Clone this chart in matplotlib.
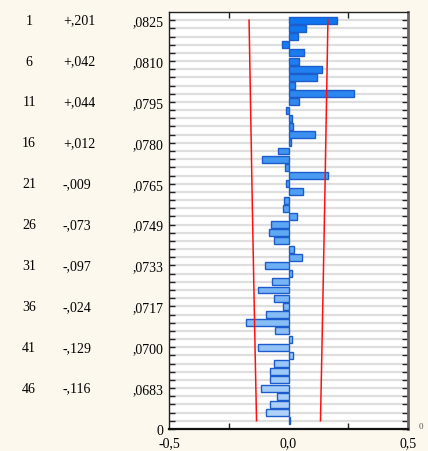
import matplotlib as mpl
mpl.use('Agg')
import matplotlib.pyplot as plt
import matplotlib.transforms as mtransforms
from matplotlib.colors import LinearSegmentedColormap
import numpy as np

mpl.rcParams['font.family'] = ['Liberation Serif', 'DejaVu Serif']
mpl.rcParams['font.size'] = 10

# autocorrelation by lag (1..50)
lags = list(range(1, 51))
acf = [0.201, 0.072, 0.038, -0.026, 0.065, 0.042, 0.139, 0.118, 0.027, 0.273,
       0.044, -0.009, 0.013, 0.017, 0.112, 0.012, -0.043, -0.110, -0.013, 0.164,
       -0.009, 0.062, -0.018, -0.024, 0.034, -0.073, -0.080, -0.059, 0.022, 0.058,
       -0.097, 0.016, -0.070, -0.126, -0.059, -0.024, -0.094, -0.177, -0.055, 0.016,
       -0.129, 0.020, -0.059, -0.079, -0.076, -0.116, -0.047, -0.079, -0.093, 0.006]
# standard errors by lag
se = [0.0825, 0.0822, 0.0819, 0.0816, 0.0813, 0.0810, 0.0807, 0.0804, 0.0801, 0.0798,
      0.0795, 0.0792, 0.0789, 0.0786, 0.0783, 0.0780, 0.0777, 0.0774, 0.0771, 0.0768,
      0.0765, 0.0762, 0.0759, 0.0756, 0.0752, 0.0749, 0.0746, 0.0743, 0.0740, 0.0736,
      0.0733, 0.0730, 0.0727, 0.0723, 0.0720, 0.0717, 0.0713, 0.0710, 0.0707, 0.0703,
      0.0700, 0.0697, 0.0693, 0.0690, 0.0686, 0.0683, 0.0679, 0.0676, 0.0672, 0.0669]
labeled_lags = [1, 6, 11, 16, 21, 26, 31, 36, 41, 46]

bg = '#fdf8ee'
fig = plt.figure(figsize=(4.28, 4.52), dpi=100, facecolor=bg)
ax = fig.add_axes([169/428, 22/452, 239/428, 417/452])
ax.set_facecolor('white')

ypos = np.array([51 - k for k in lags])
n = len(lags)

# grid line at every lag
for y in ypos:
    ax.axhline(y, color='#dedede', lw=1.6, zorder=0)

cmap = LinearSegmentedColormap.from_list('acf', ['#0f74ee', '#5aa6f3', '#b3d4f8'])
cols = [cmap(i / (n - 1)) for i in range(n)]
ax.barh(ypos, acf, height=0.85, color=cols, edgecolor='#1c5ccc', linewidth=1.0, zorder=2)

# +/- 2 SE limits
lim = 2 * np.array(se)
ax.plot(-lim, ypos, color='#ff1010', lw=1.1, zorder=3)
ax.plot(lim, ypos, color='#ff1010', lw=1.1, zorder=3)

ax.set_xlim(-0.5, 0.5)
ax.set_ylim(0, 51)
ax.set_xticks([-0.5, 0.0, 0.5])
ax.set_xticklabels(['-0,5', '0,0', '0,5'])
ax.set_xticks([-0.25, 0.25], minor=True)

yt = [0] + [51 - k for k in labeled_lags]
ax.set_yticks(yt)
ax.set_yticklabels(['0'] + [('%.4f' % se[k - 1])[1:].replace('.', ',') for k in labeled_lags])
ax.set_yticks(ypos, minor=True)

ax.tick_params(axis='both', which='both', direction='in', color='#222222')
ax.tick_params(axis='y', which='both', right=True, length=4, width=1.0, pad=4)
ax.tick_params(axis='x', which='both', top=True, length=4, width=1.0, pad=5)
ax.tick_params(axis='x', which='major', bottom=False, top=False)

for side in ['left', 'top']:
    ax.spines[side].set_color('#222222')
    ax.spines[side].set_linewidth(1.0)
ax.spines['bottom'].set_color('#111111')
ax.spines['bottom'].set_linewidth(1.6)
ax.spines['right'].set_color('#666666')
ax.spines['right'].set_linewidth(2.0)

# lag and autocorrelation columns
tr = mtransforms.blended_transform_factory(fig.transFigure, ax.transData)
for k in labeled_lags:
    y = 51 - k
    v = acf[k - 1]
    txt = ('+' if v >= 0 else '-') + ('%.3f' % abs(v))[1:].replace('.', ',')
    ax.text(29/428, y, str(k), transform=tr, ha='center', va='center')
    ax.text(63/428, y, txt, transform=tr, ha='left', va='center')

fig.text(421/428, 1 - 427/452, '0', ha='center', va='center', fontsize=6.5, color='#555555')

fig.savefig('out.png', dpi=100, facecolor=bg)
